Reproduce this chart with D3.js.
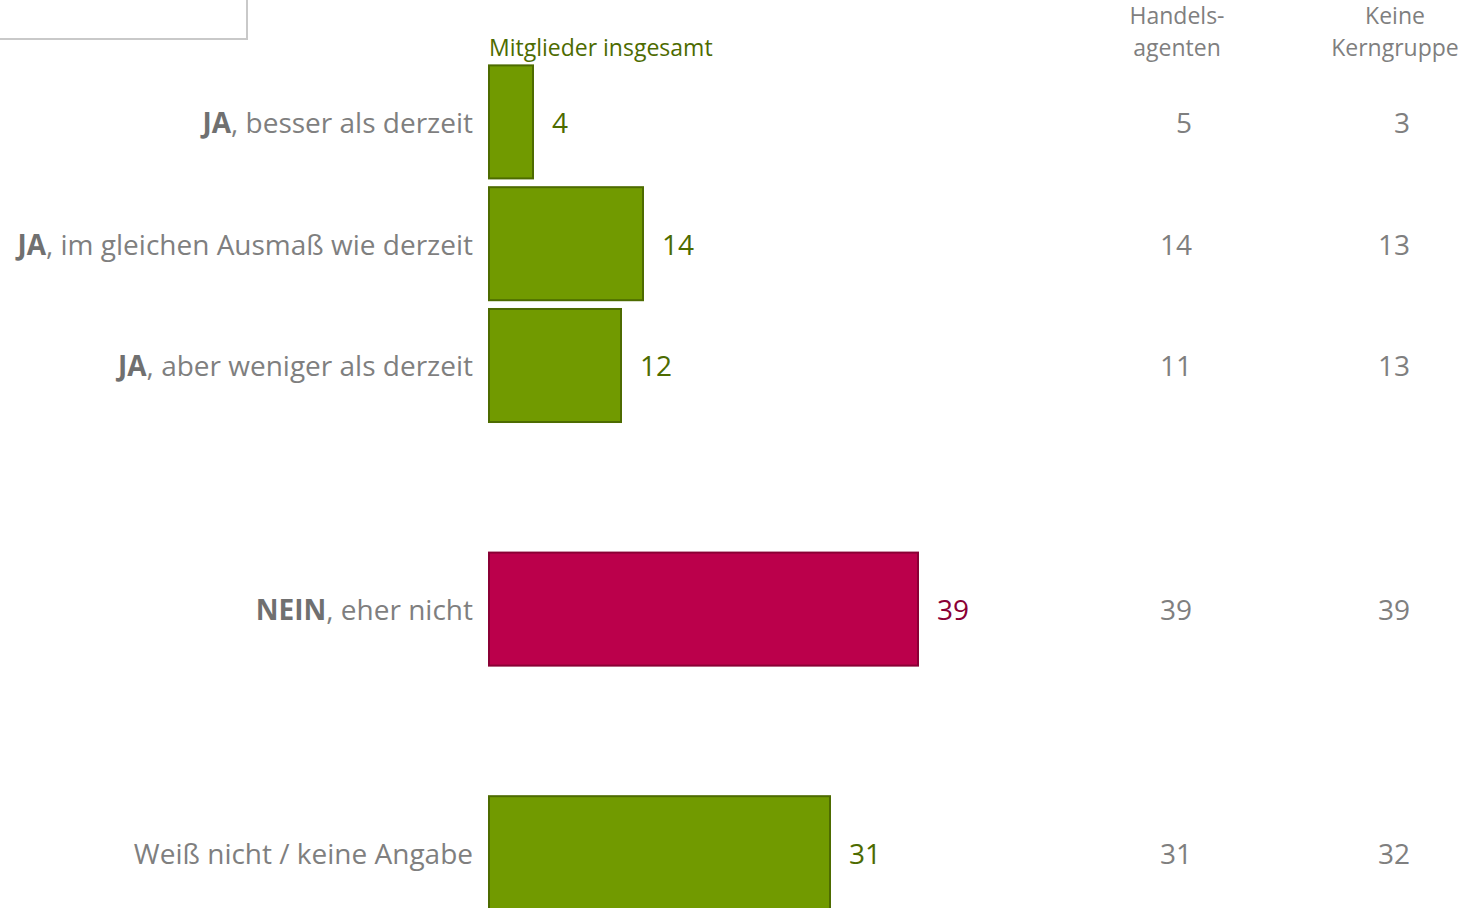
<!DOCTYPE html>
<html>
<head>
<meta charset="utf-8">
<script src="https://cdn.jsdelivr.net/npm/d3@7"></script>
<style>
  html, body { margin: 0; padding: 0; background: #fff; }
  svg { display: block; }
  text { font-family: "Open Sans", "Noto Sans", sans-serif; }
</style>
</head>
<body>
<svg id="chart" width="1462" height="908"></svg>
<script>
// Answer categories (bold lead word + remainder); null rows are spacer rows
const leadWords = ["JA", "JA", "JA", null, "NEIN", null, ""];
const restWords = [", besser als derzeit", ", im gleichen Ausmaß wie derzeit", ", aber weniger als derzeit", null, ", eher nicht", null, "Weiß nicht / keine Angabe"];
const rowKeys = ["r1", "r2", "r3", "s1", "r4", "s2", "r5"];

// Percentages
const totalValues = [4, 14, 12, null, 39, null, 31];
const handelsValues = [5, 14, 11, null, 39, null, 31];
const keineValues = [3, 13, 13, null, 39, null, 32];
const negativeRow = [false, false, false, false, true, false, false];

// Column headers
const totalHeader = "Mitglieder insgesamt";
const handelsHeader = ["Handels-", "agenten"];
const keineHeader = ["Keine", "Kerngruppe"];

const svg = d3.select("#chart");

const x = d3.scaleLinear().domain([0, 100]).range([489, 1589]);
const y = d3.scaleBand().domain(rowKeys).range([61, 913.6]).paddingInner(0.072).paddingOuter(0.036);

const green = "#719a00", greenStroke = "#4d6b00", greenText = "#4d6b00";
const red = "#bb004b", redStroke = "#8a0035", redText = "#8a0035";
const grey = "#7f7f7f";
const labelSize = 28, headSize = 23;

// frame in the top-left corner
svg.append("rect")
  .attr("x", -10).attr("y", -10).attr("width", 257).attr("height", 49)
  .attr("fill", "#fff").attr("stroke", "#c9c9c9").attr("stroke-width", 2);

const rows = rowKeys.map((k, i) => ({
  key: k, lead: leadWords[i], rest: restWords[i], v: totalValues[i],
  h: handelsValues[i], kg: keineValues[i], neg: negativeRow[i]
})).filter(d => d.v !== null);

const midY = d => y(d.key) + y.bandwidth() / 2 + 1;

// bars
svg.append("g").selectAll("rect").data(rows).join("rect")
  .attr("x", x(0))
  .attr("y", d => y(d.key))
  .attr("width", d => x(d.v) - x(0))
  .attr("height", y.bandwidth())
  .attr("fill", d => d.neg ? red : green)
  .attr("stroke", d => d.neg ? redStroke : greenStroke)
  .attr("stroke-width", 2);

// value labels next to bars
svg.append("g").selectAll("text").data(rows).join("text")
  .attr("x", d => x(d.v) + 19)
  .attr("y", midY)
  .attr("dy", "0.35em")
  .attr("font-size", labelSize)
  .attr("fill", d => d.neg ? redText : greenText)
  .text(d => d.v);

// category labels
const cat = svg.append("g").selectAll("text").data(rows).join("text")
  .attr("x", 473)
  .attr("y", midY)
  .attr("dy", "0.35em")
  .attr("text-anchor", "end")
  .attr("font-size", labelSize)
  .attr("fill", grey);
cat.append("tspan").attr("font-weight", "bold").attr("fill", "#707070").text(d => d.lead);
cat.append("tspan").text(d => d.rest);

// side columns
const sideCols = [
  { vals: "h", xr: 1192, hx: 1177, head: handelsHeader },
  { vals: "kg", xr: 1410, hx: 1395, head: keineHeader }
];
sideCols.forEach(c => {
  svg.append("g").selectAll("text").data(rows).join("text")
    .attr("x", c.xr)
    .attr("y", midY)
    .attr("dy", "0.35em")
    .attr("text-anchor", "end")
    .attr("font-size", labelSize)
    .attr("fill", grey)
    .text(d => d[c.vals]);
  svg.append("g").selectAll("text").data(c.head).join("text")
    .attr("x", c.hx)
    .attr("y", (d, i) => 24 + i * 32)
    .attr("text-anchor", "middle")
    .attr("font-size", headSize)
    .attr("fill", grey)
    .text(d => d);
});

svg.append("text")
  .attr("x", 489).attr("y", 56)
  .attr("font-size", headSize)
  .attr("fill", greenText)
  .text(totalHeader);
</script>
</body>
</html>
